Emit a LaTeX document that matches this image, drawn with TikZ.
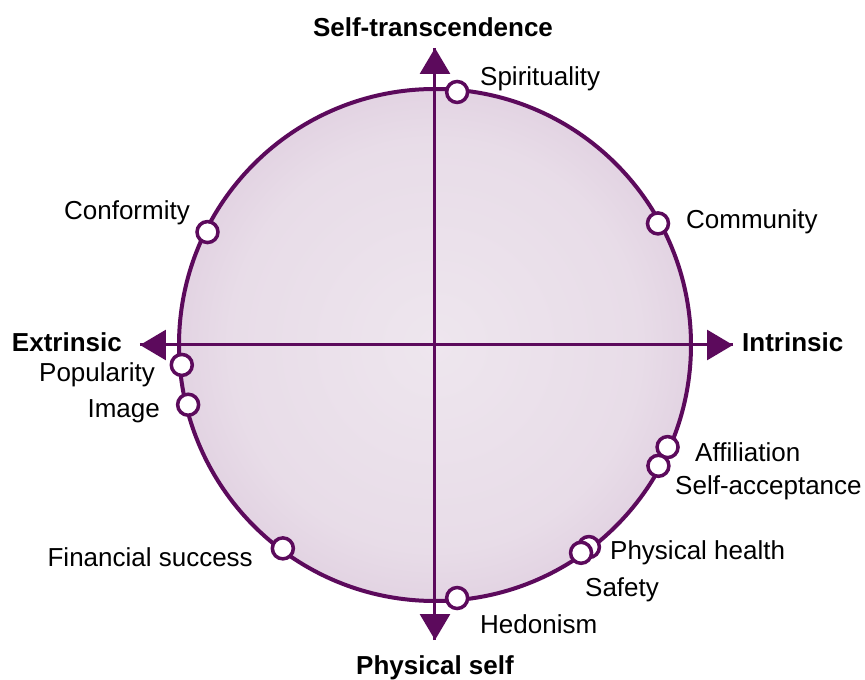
\documentclass[tikz,border=0pt]{standalone}
\usepackage{fontspec}
\setmainfont{Liberation Sans}
\usetikzlibrary{arrows.meta}

\definecolor{rim}{RGB}{92,10,92}
\definecolor{discin}{RGB}{238,230,238}
\definecolor{discout}{RGB}{198,166,198}
\pgfdeclareradialshading{discshade}{\pgfpoint{0bp}{0bp}}{color(0bp)=(discin); color(20bp)=(discin!85!discout); color(50bp)=(discout); color(100bp)=(discout)}

\tikzset{
  value/.style={circle,draw=rim,fill=white,line width=3.5pt,inner sep=0pt,minimum size=21pt},
  axis/.style={line width=3pt,color=rim,-{Triangle[width=30pt,length=26pt]}},
  txt/.style={inner sep=0pt,font=\fontsize{26}{30}\selectfont},
  pole/.style={txt,font=\fontsize{26}{30}\selectfont\bfseries}
}

\begin{document}
\begin{tikzpicture}[x=1pt,y=1pt]
  \useasboundingbox (-435,-335) rectangle (430,345);

  \shade[shading=discshade] (0,0) circle (256);
  \draw[line width=4pt,color=rim] (0,0) circle (256);

  \coordinate (top) at (0,297);
  \coordinate (bottom) at (0,-295);
  \coordinate (left) at (-295,0);
  \coordinate (right) at (298,0);
  \draw[axis] (bottom) -- (top);
  \draw[axis] (top) -- (bottom);
  \draw[axis] (right) -- (left);
  \draw[axis] (left) -- (right);

  \node [pole,anchor=base] (selftr) at (-2,308) {Self-transcendence};
  \node [pole,anchor=base] (physself) at (0,-329) {Physical self};
  \node [pole,anchor=base east] (extr) at (-313,-7) {Extrinsic};
  \node [pole,anchor=base west] (intr) at (307,-7) {Intrinsic};

  \node [value] (spirit) at (85:254) {};
  \node [value] (commun) at (28.6:254) {};
  \node [value] (conform) at (153.6:254) {};
  \node [value] (popul) at (184.5:254) {};
  \node [value] (image) at (193.6:254) {};
  \node [value] (affil) at (-23.7:254) {};
  \node [value] (selfacc) at (-28.4:254) {};
  \node [value] (health) at (-52.7:254) {};
  \node [value] (safety) at (-54.9:254) {};
  \node [value] (hedon) at (-85:254) {};
  \node [value] (finance) at (233.2:254) {};

  \node [txt,anchor=base west] at (45,259) {Spirituality};
  \node [txt,anchor=base west] at (251,116) {Community};
  \node [txt,anchor=base east] at (-245,125) {Conformity};
  \node [txt,anchor=base east] at (-280,-37) {Popularity};
  \node [txt,anchor=base east] at (-275,-73) {Image};
  \node [txt,anchor=base west] at (260,-116) {Affiliation};
  \node [txt,anchor=base west] at (240,-149) {Self-acceptance};
  \node [txt,anchor=base west] at (175,-214) {Physical health};
  \node [txt,anchor=base west] at (150,-251) {Safety};
  \node [txt,anchor=base west] at (45,-288) {Hedonism};
  \node [txt,anchor=base east] at (-182,-221) {Financial success};
\end{tikzpicture}
\end{document}
